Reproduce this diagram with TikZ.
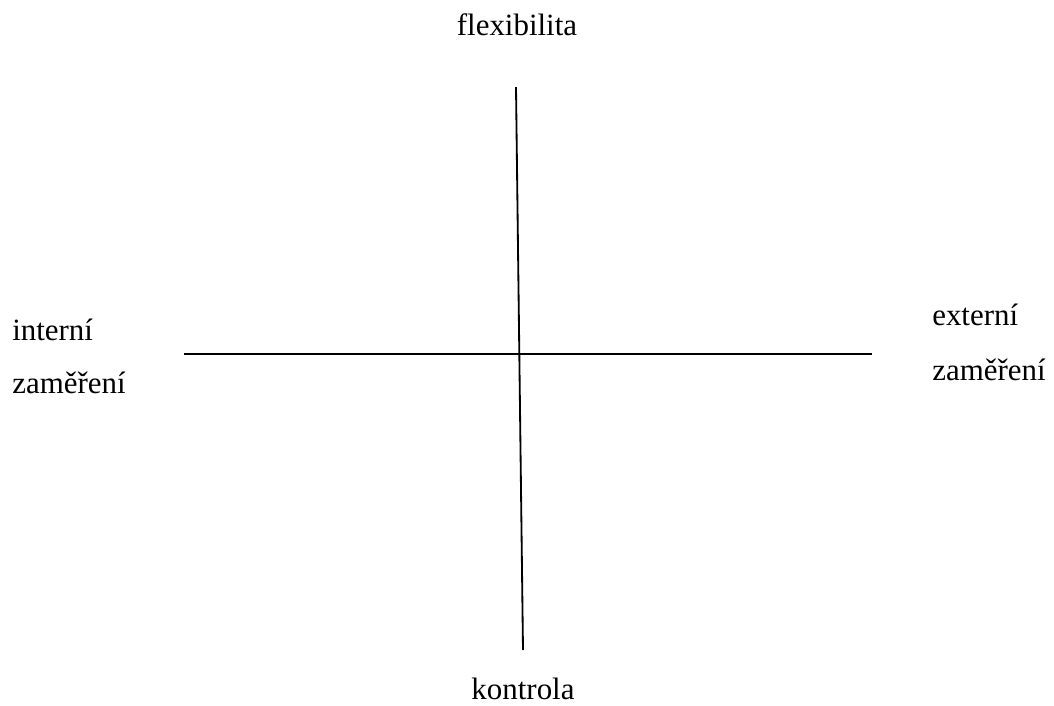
\documentclass[tikz,border=0pt]{standalone}
\usepackage{fontspec}
\setmainfont{Liberation Serif}
\usetikzlibrary{positioning}

\begin{document}
\begin{tikzpicture}[x=0.025cm,y=-0.025cm,
    lbl/.style={inner sep=0pt,font=\fontsize{22}{26}\selectfont},
    axis/.style={line width=1.3pt}]
  \useasboundingbox (0,0) rectangle (1054,705);
  % axis labels
  \node[lbl,anchor=base] (flex) at (517,35) {flexibilita};
  \node[lbl,anchor=base] (kontr) at (523,699) {kontrola};
  \node[lbl,anchor=base west] (int1) at (12,340) {interní};
  \node[lbl,anchor=base west] (int2) at (12,393) {zaměření};
  \node[lbl,anchor=base west] (ext1) at (932,325) {externí};
  \node[lbl,anchor=base west] (ext2) at (932,380) {zaměření};
  % axes
  \coordinate (top) at (516,87);
  \coordinate (bot) at (523,650);
  \coordinate (lft) at (184,354);
  \coordinate (rgt) at (872,354);
  \draw[axis] (top) -- (bot);
  \draw[axis] (lft) -- (rgt);
\end{tikzpicture}
\end{document}
